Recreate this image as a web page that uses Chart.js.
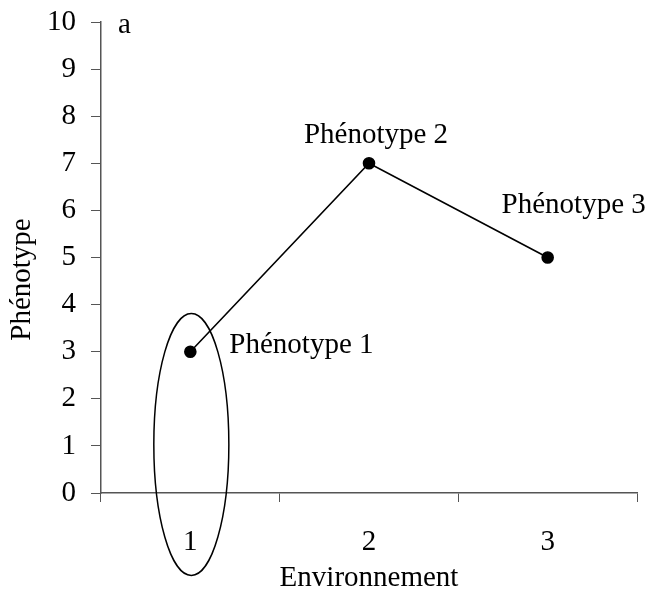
<!DOCTYPE html>
<html>
<head>
<meta charset="utf-8">
<script src="https://cdn.jsdelivr.net/npm/chart.js@4/dist/chart.umd.min.js"></script>
<style>
  html, body { margin: 0; padding: 0; background: #ffffff; }
  #chart-container { width: 647px; height: 594px; }
</style>
</head>
<body>
<div id="chart-container"><canvas id="chart"></canvas></div>
<script>
"use strict";

const environments = ["1", "2", "3"];
const phenotypes = [3, 7, 5];
const pointLabels = ["Phénotype 1", "Phénotype 2", "Phénotype 3"];
const yMin = 0;
const yMax = 10;
const panelLetter = "a";
const xTitle = "Environnement";
const yTitle = "Phénotype";

const fontFamily = "'Liberation Serif', 'Times New Roman', serif";
const fontSize = 29;
const axisColor = "#555555";

// where each point label sits, relative to its point (px)
const labelOffsets = [
  { dx: 39, dy: -6, align: "left" },
  { dx: 7, dy: -28, align: "center" },
  { dx: 26, dy: -52, align: "center" },
];

/** ellipse around environment 1, drawn on top of the chart */
const annotations = {
  id: "annotations",
  afterDatasetsDraw(chart) {
    const { ctx, chartArea } = chart;
    const { x, y } = chart.scales;

    ctx.save();

    const step = x.getPixelForValue(1) - x.getPixelForValue(0);
    const cx = x.getPixelForValue(0) + 1;
    const cy = y.getPixelForValue(1.03);
    const rx = step * 0.21;
    const ry = y.getPixelForValue(0) - y.getPixelForValue(2.78);

    ctx.beginPath();
    ctx.ellipse(cx, cy, rx, ry, 0, 0, Math.PI * 2);
    ctx.lineWidth = 1.5;
    ctx.strokeStyle = "#000000";
    ctx.stroke();

    ctx.fillStyle = "#000000";
    ctx.font = `${fontSize}px ${fontFamily}`;
    ctx.textBaseline = "middle";

    pointLabels.forEach((text, i) => {
      const px = x.getPixelForValue(i);
      const py = y.getPixelForValue(phenotypes[i]);
      const { dx, dy, align } = labelOffsets[i];
      ctx.textAlign = align;
      ctx.fillText(text, px + dx, py + dy);
    });

    ctx.textAlign = "left";
    ctx.textBaseline = "alphabetic";
    ctx.fillText(panelLetter, chartArea.left + 17, chartArea.top + 11);

    // y title, centred a bit lower than the axis middle
    ctx.translate(22, (chartArea.top + chartArea.bottom) / 2 + 22);
    ctx.rotate(-Math.PI / 2);
    ctx.textAlign = "center";
    ctx.textBaseline = "middle";
    ctx.fillText(yTitle, 0, 0);

    ctx.restore();
  },
};

const main = () => {
  const canvas = document.getElementById("chart");
  if (!(canvas instanceof HTMLCanvasElement)) throw new Error();

  Chart.defaults.font.family = fontFamily;
  Chart.defaults.font.size = fontSize;
  Chart.defaults.color = "#000000";

  new Chart(canvas, {
    type: "line",
    data: {
      labels: environments,
      datasets: [
        {
          data: phenotypes,
          borderColor: "#000000",
          borderWidth: 1.6,
          backgroundColor: "#000000",
          pointRadius: 5.5,
          pointHoverRadius: 5.5,
          tension: 0,
        },
      ],
    },
    options: {
      responsive: true,
      maintainAspectRatio: false,
      animation: false,
      layout: { padding: { top: 22, right: 10, left: 0, bottom: 0 } },
      plugins: {
        legend: { display: false },
        tooltip: { enabled: false },
      },
      scales: {
        x: {
          type: "category",
          offset: true,
          grid: {
            offset: true,
            drawOnChartArea: false,
            drawTicks: true,
            tickLength: 9,
            color: axisColor,
          },
          border: { display: true, color: axisColor, width: 1.5 },
          ticks: { padding: 23, color: "#000000" },
          title: {
            display: true,
            text: xTitle,
            color: "#000000",
            padding: { top: 0, bottom: -2 },
          },
          afterFit: (scale) => {
            scale.height = 101;
          },
        },
        y: {
          min: yMin,
          max: yMax,
          ticks: { stepSize: 1, padding: 15, color: "#000000" },
          grid: {
            drawOnChartArea: false,
            drawTicks: true,
            tickLength: 10,
            color: axisColor,
          },
          border: { display: true, color: axisColor, width: 1.5 },
          afterFit: (scale) => {
            scale.width = 101;
            // the "10" label may overhang the plot top, as in the original
            scale.paddingTop = 0;
            scale.paddingBottom = 0;
          },
        },
      },
    },
    plugins: [annotations],
  });
};

main();
</script>
</body>
</html>
